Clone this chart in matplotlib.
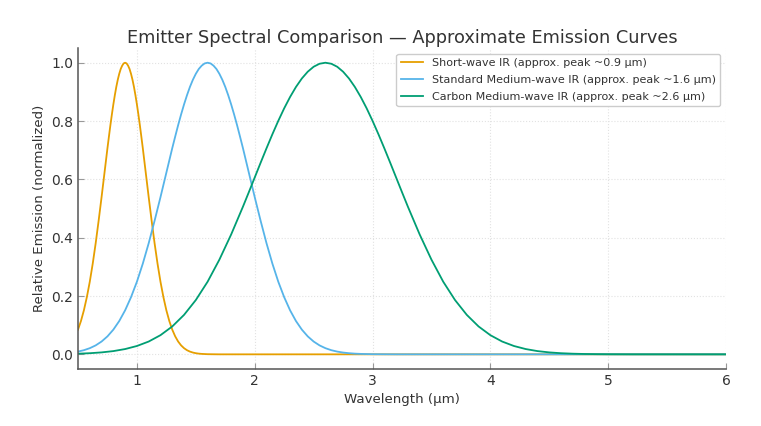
import matplotlib
matplotlib.use("Agg")
import matplotlib.pyplot as plt

# Short-wave IR samples
sw_x = [0.500, 0.525, 0.550, 0.575, 0.600, 0.625, 0.650, 0.675, 0.700, 0.725,
        0.750, 0.7625, 0.775, 0.7875, 0.800, 0.8125, 0.825, 0.8375, 0.850, 0.8625,
        0.875, 0.8875, 0.900, 0.9125, 0.925, 0.9375, 0.950, 0.9625, 0.975, 0.9875,
        1.000, 1.0125, 1.025, 1.0375, 1.050, 1.075, 1.100, 1.125, 1.150, 1.175,
        1.200, 1.225, 1.250, 1.275, 1.300, 1.325, 1.350, 1.375, 1.400, 1.425,
        1.450, 1.475, 1.500, 1.525, 1.550, 1.600, 1.700, 6.000]
sw_y = [0.0847, 0.1142, 0.151, 0.196, 0.249, 0.311, 0.381, 0.458, 0.539, 0.623,
        0.707, 0.7469, 0.786, 0.8226, 0.857, 0.8885, 0.917, 0.9415, 0.962, 0.9785,
        0.990, 0.9976, 1.000, 0.9976, 0.990, 0.9785, 0.962, 0.9415, 0.917, 0.8885,
        0.857, 0.8226, 0.786, 0.7469, 0.707, 0.623, 0.539, 0.458, 0.381, 0.311,
        0.249, 0.196, 0.151, 0.1142, 0.0847, 0.0616, 0.0439, 0.0307, 0.0211, 0.0142,
        0.0094, 0.0061, 0.0039, 0.0024, 0.0015, 0.0005, 0.0, 0.0]

# Standard medium-wave IR samples
smw_x = [0.50, 0.55, 0.60, 0.65, 0.70, 0.75, 0.80, 0.85, 0.90, 0.95,
         1.00, 1.05, 1.10, 1.15, 1.20, 1.25, 1.30, 1.325, 1.35, 1.375,
         1.40, 1.425, 1.45, 1.475, 1.50, 1.525, 1.55, 1.575, 1.60, 1.625,
         1.65, 1.675, 1.70, 1.725, 1.75, 1.775, 1.80, 1.825, 1.85, 1.875,
         1.90, 1.95, 2.00, 2.05, 2.10, 2.15, 2.20, 2.25, 2.30, 2.35,
         2.40, 2.45, 2.50, 2.55, 2.60, 2.65, 2.70, 2.75, 2.80, 2.85,
         2.90, 3.00, 3.20, 6.00]
smw_y = [0.0094, 0.0142, 0.0211, 0.0307, 0.0439, 0.0616, 0.0847, 0.1142, 0.151, 0.196,
         0.249, 0.311, 0.381, 0.458, 0.539, 0.623, 0.707, 0.7469, 0.786, 0.8226,
         0.857, 0.8885, 0.917, 0.9415, 0.962, 0.9785, 0.990, 0.9976, 1.000, 0.9976,
         0.990, 0.9785, 0.962, 0.9415, 0.917, 0.8885, 0.857, 0.8226, 0.786, 0.7469,
         0.707, 0.623, 0.539, 0.458, 0.381, 0.311, 0.249, 0.196, 0.151, 0.1142,
         0.0847, 0.0616, 0.0439, 0.0307, 0.0211, 0.0142, 0.0094, 0.0061, 0.0039, 0.0024,
         0.0015, 0.0005, 0.00005, 0.0]

# Carbon medium-wave IR samples
cmw_x = [0.5, 0.6, 0.7, 0.8, 0.9, 1.0, 1.1, 1.2, 1.3, 1.4,
         1.5, 1.6, 1.7, 1.8, 1.9, 1.95, 2.0, 2.05, 2.1, 2.15,
         2.2, 2.25, 2.3, 2.35, 2.4, 2.45, 2.5, 2.55, 2.6, 2.65,
         2.7, 2.75, 2.8, 2.85, 2.9, 2.95, 3.0, 3.05, 3.1, 3.15,
         3.2, 3.25, 3.3, 3.4, 3.5, 3.6, 3.7, 3.8, 3.9, 4.0,
         4.1, 4.2, 4.3, 4.4, 4.5, 4.6, 4.7, 4.8, 4.9, 5.0,
         5.2, 6.0]
cmw_y = [0.00219, 0.00386, 0.00664, 0.0111, 0.0181, 0.0286, 0.0439, 0.0657, 0.0956, 0.1353,
         0.1862, 0.249, 0.3247, 0.4111, 0.5063, 0.5561, 0.6065, 0.6570, 0.7066, 0.7548,
         0.8007, 0.8436, 0.8825, 0.9169, 0.9460, 0.9692, 0.9862, 0.9965, 1.000, 0.9965,
         0.9862, 0.9692, 0.9460, 0.9169, 0.8825, 0.8436, 0.8007, 0.7548, 0.7066, 0.6570,
         0.6065, 0.5561, 0.5063, 0.4111, 0.3247, 0.249, 0.1862, 0.1353, 0.0956, 0.0657,
         0.0439, 0.0286, 0.0181, 0.0111, 0.00664, 0.00386, 0.00219, 0.0012, 0.00065, 0.00034,
         0.00008, 0.0]

labels = ["Short-wave IR (approx. peak ~0.9 µm)",
          "Standard Medium-wave IR (approx. peak ~1.6 µm)",
          "Carbon Medium-wave IR (approx. peak ~2.6 µm)"]
colors = ["#E69F00", "#56B4E9", "#009E73"]

text_c = "#333333"
plt.rcParams['font.family'] = ['DejaVu Sans']

fig = plt.figure(figsize=(7.61, 4.26), dpi=100)
ax = fig.add_axes([0.1025, 0.134, 0.8515, 0.753])

for xs, ys, lab, c in zip([sw_x, smw_x, cmw_x], [sw_y, smw_y, cmw_y], labels, colors):
    ax.plot(xs, ys, color=c, lw=1.3, label=lab, solid_joinstyle="round")

ax.set_xlim(0.5, 6)
ax.set_ylim(-0.05, 1.05)
ax.set_xticks([1, 2, 3, 4, 5, 6])
ax.set_yticks([0.0, 0.2, 0.4, 0.6, 0.8, 1.0])
ax.grid(True, color="#e2e2e2", linestyle=":", linewidth=0.8)
for s in ["top", "right"]:
    ax.spines[s].set_visible(False)
for s in ["left", "bottom"]:
    ax.spines[s].set_color("#555555")
    ax.spines[s].set_linewidth(1.1)
ax.tick_params(direction="in", length=4, color="#999999", labelsize=10, labelcolor=text_c)

ax.set_title("Emitter Spectral Comparison — Approximate Emission Curves", fontsize=12.8, color=text_c, pad=4)
ax.set_xlabel("Wavelength (µm)", fontsize=9.6, color=text_c)
ax.set_ylabel("Relative Emission (normalized)", fontsize=9.6, color=text_c)

leg = ax.legend(loc="upper right", fontsize=8.0, frameon=True, framealpha=1, edgecolor="#cccccc",
                labelspacing=0.62)
for t in leg.get_texts():
    t.set_color(text_c)

fig.savefig("out.png", dpi=100)
